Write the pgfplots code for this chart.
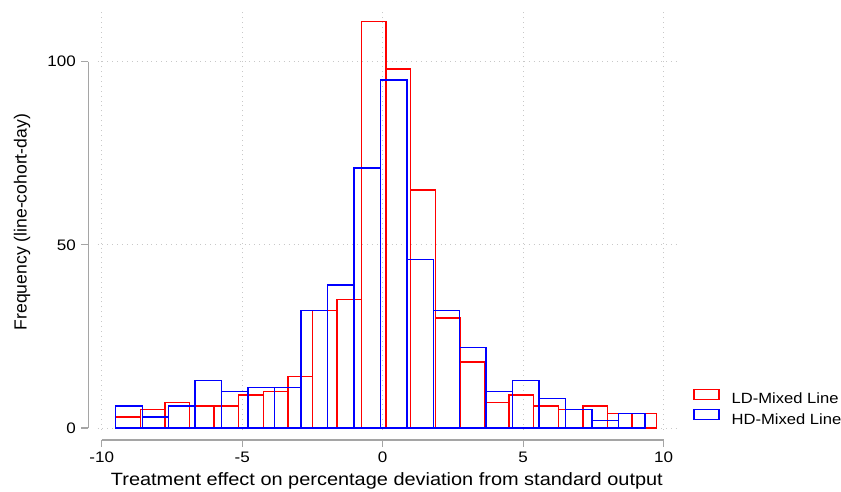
\documentclass[border=0pt]{standalone}
\usepackage{fontspec}
\setmainfont{Liberation Sans}[FakeStretch=1.12]
\newfontfamily\ylabfont{Liberation Sans}
\usepackage{pgfplots}
\pgfplotsset{compat=1.18}
\definecolor{axisgray}{RGB}{165,165,165}
\definecolor{gridgray}{RGB}{200,200,200}
\definecolor{ldred}{RGB}{255,0,0}
\definecolor{hdblue}{RGB}{0,0,255}
\pgfplotsset{
    histbar/.style={ybar interval, draw=#1, fill=none, line width=1.4pt,
        legend image code/.code={\draw[##1] (0pt,0.9pt) rectangle (25pt,10.9pt); \path (37pt,0pt);}},
}
\begin{document}
\begin{tikzpicture}
\begin{axis}[
    at={(97.5pt,62.2pt)}, anchor=south west,
    scale only axis, width=578.8pt, height=417.9pt,
    xmin=-10.15, xmax=10.45, ymin=-0.5, ymax=113.6,
    clip=false,
    axis line style={draw=none},
    major tick style={draw=none},
    xtick={-10,-5,0,5,10}, ytick={0,50,100},
    x tick label as interval=false,
    grid=major,
    major grid style={gridgray, line width=0.9pt, dash pattern=on 0.9pt off 4pt},
    /pgf/number format/assume math mode=true,
    ticklabel style={font=\fontsize{15.2}{18}\selectfont, inner sep=0pt},
    xticklabel style={anchor=north, yshift=-21.9pt},
    yticklabel style={anchor=east, xshift=-21.5pt},
    xlabel={Treatment effect on percentage deviation from standard output},
    ylabel={Frequency (line-cohort-day)},
    xlabel style={font=\fontsize{17.8}{20}\selectfont,
        at={(axis description cs:0.5,-0.1225)}, anchor=center},
    ylabel style={font=\ylabfont\fontsize{17.6}{20}\selectfont,
        at={(axis description cs:-0.1304,0.497)}, anchor=center},
    legend style={at={(axis description cs:1.029,0.051)}, anchor=west,
        draw=none, fill=none, inner sep=0pt, row sep=1pt,
        font=\fontsize{14.8}{18}\selectfont,
        nodes={inner sep=0pt, text height=11pt, text depth=4pt}},
    legend cell align=left,
]

% LD-Mixed Line: 22 bins of width 0.875 from -9.5
\addplot[histbar=ldred]
    coordinates {
    (-9.5,3) (-8.625,5) (-7.75,7) (-6.875,6) (-6.0,6) (-5.125,9)
    (-4.25,10) (-3.375,14) (-2.5,32) (-1.625,35) (-0.75,111) (0.125,98)
    (1.0,65) (1.875,30) (2.75,18) (3.625,7) (4.5,9) (5.375,6)
    (6.25,5) (7.125,6) (8.0,4) (8.875,4) (9.75,4)
    };
\addlegendentry{LD-Mixed Line}

% HD-Mixed Line: 20 bins of width 0.9417 from -9.5
\addplot[histbar=hdblue]
    coordinates {
    (-9.5,6) (-8.5583,3) (-7.6167,6) (-6.675,13) (-5.7333,10)
    (-4.7917,11) (-3.85,11) (-2.9083,32) (-1.9667,39) (-1.025,71)
    (-0.0833,95) (0.8583,46) (1.8,32) (2.7417,22) (3.6833,10)
    (4.625,13) (5.5667,8) (6.5083,5) (7.45,2) (8.3917,4) (9.3333,4)
    };
\addlegendentry{HD-Mixed Line}

% offset axis lines, Stata style
\draw[axisgray, line width=1.3pt]
    ([xshift=-9.2pt]axis cs:-10.15,100) -- ([xshift=-9.2pt]axis cs:-10.15,0);
\draw[axisgray, line width=1.3pt] ([xshift=-9.2pt]axis cs:-10.15,0) -- ++(-7.6pt,0pt);
\draw[axisgray, line width=1.3pt] ([xshift=-9.2pt]axis cs:-10.15,50) -- ++(-7.6pt,0pt);
\draw[axisgray, line width=1.3pt] ([xshift=-9.2pt]axis cs:-10.15,100) -- ++(-7.6pt,0pt);
\draw[axisgray, line width=1.3pt]
    ([yshift=-12pt]axis cs:-10,0) -- ([yshift=-12pt]axis cs:10,0);
\draw[axisgray, line width=1.3pt] ([yshift=-12pt]axis cs:-10,0) -- ++(0pt,-7pt);
\draw[axisgray, line width=1.3pt] ([yshift=-12pt]axis cs:-5,0) -- ++(0pt,-7pt);
\draw[axisgray, line width=1.3pt] ([yshift=-12pt]axis cs:0,0) -- ++(0pt,-7pt);
\draw[axisgray, line width=1.3pt] ([yshift=-12pt]axis cs:5,0) -- ++(0pt,-7pt);
\draw[axisgray, line width=1.3pt] ([yshift=-12pt]axis cs:10,0) -- ++(0pt,-7pt);
\end{axis}
\pgfresetboundingbox
\path (0,0) rectangle (841pt,492pt);
\end{tikzpicture}
\end{document}
